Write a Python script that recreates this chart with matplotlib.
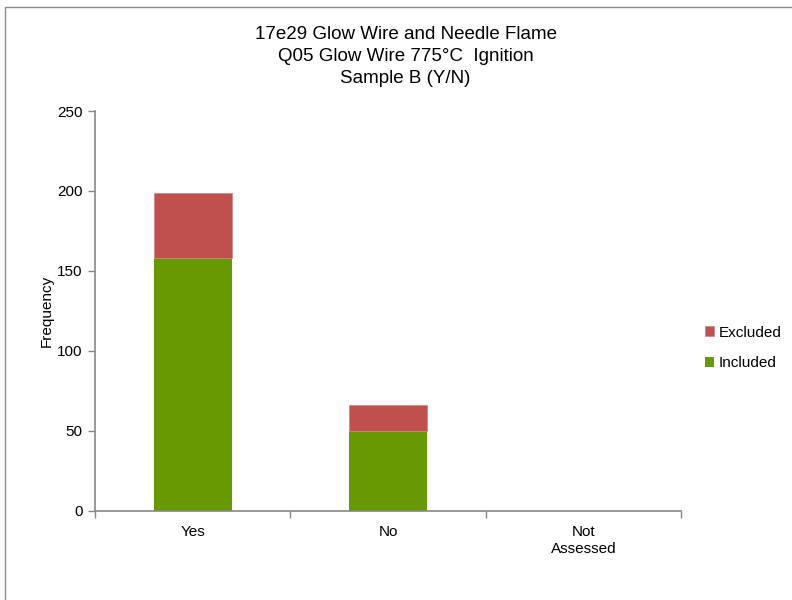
import matplotlib
matplotlib.use("Agg")
import matplotlib.pyplot as plt
from matplotlib.patches import Rectangle

plt.rcParams['font.family'] = ['Liberation Sans', 'DejaVu Sans']

categories = ["Yes", "No", "Not\nAssessed"]
included = [158, 50, 0]
excluded = [41, 16, 0]
yticks = [0, 50, 100, 150, 200, 250]

green = "#669A00"
red = "#C0504D"
axis_grey = "#868686"

fig = plt.figure(figsize=(7.92, 6.0), dpi=100)
fig.patch.set_facecolor("white")

# chart-area outline
fig.add_artist(Rectangle((5 / 792, -0.1), 1.2, 1.1 - 7 / 600,
                         transform=fig.transFigure, fill=False,
                         edgecolor="#8c8c8c", linewidth=1.0))

ax = fig.add_axes([95 / 792, 89 / 600, 586 / 792, 400 / 600])
x = list(range(len(categories)))
ax.bar(x, included, width=0.4, color=green, edgecolor="none", label="Included")
ax.bar(x, excluded, width=0.4, bottom=included, color=red,
       edgecolor="#d08a88", linewidth=0.6, label="Excluded")

ax.set_xlim(-0.5, 2.5)
ax.set_ylim(0, 250)
ax.set_yticks(yticks)
ax.set_xticks(x)
ax.set_xticklabels(categories, fontsize=11, linespacing=1.25)
ax.set_xticks([-0.5, 0.5, 1.5, 2.5], minor=True)
ax.tick_params(axis="x", which="major", length=0, pad=10)
ax.tick_params(axis="x", which="minor", length=5, color=axis_grey, width=1.0)
ax.tick_params(axis="y", length=5, color=axis_grey, width=1.0, labelsize=11, pad=4)

for side in ("top", "right"):
    ax.spines[side].set_visible(False)
for side in ("left", "bottom"):
    ax.spines[side].set_color(axis_grey)
    ax.spines[side].set_linewidth(1.2)

ax.set_ylabel("Frequency", fontsize=11, labelpad=2)

fig.text(0.512, 0.957, "17e29 Glow Wire and Needle Flame\nQ05 Glow Wire 775°C  Ignition\nSample B (Y/N)",
         ha="center", va="top", fontsize=13.5, linespacing=1.4)

handles, labels = ax.get_legend_handles_labels()
leg = fig.legend(handles[::-1], labels[::-1], loc="center left",
                 bbox_to_anchor=(691 / 792, 1 - 348 / 600), frameon=False,
                 fontsize=11, handlelength=0.6, handleheight=0.6,
                 handletextpad=0.3, labelspacing=1.1)

fig.savefig("out.png", dpi=100)
